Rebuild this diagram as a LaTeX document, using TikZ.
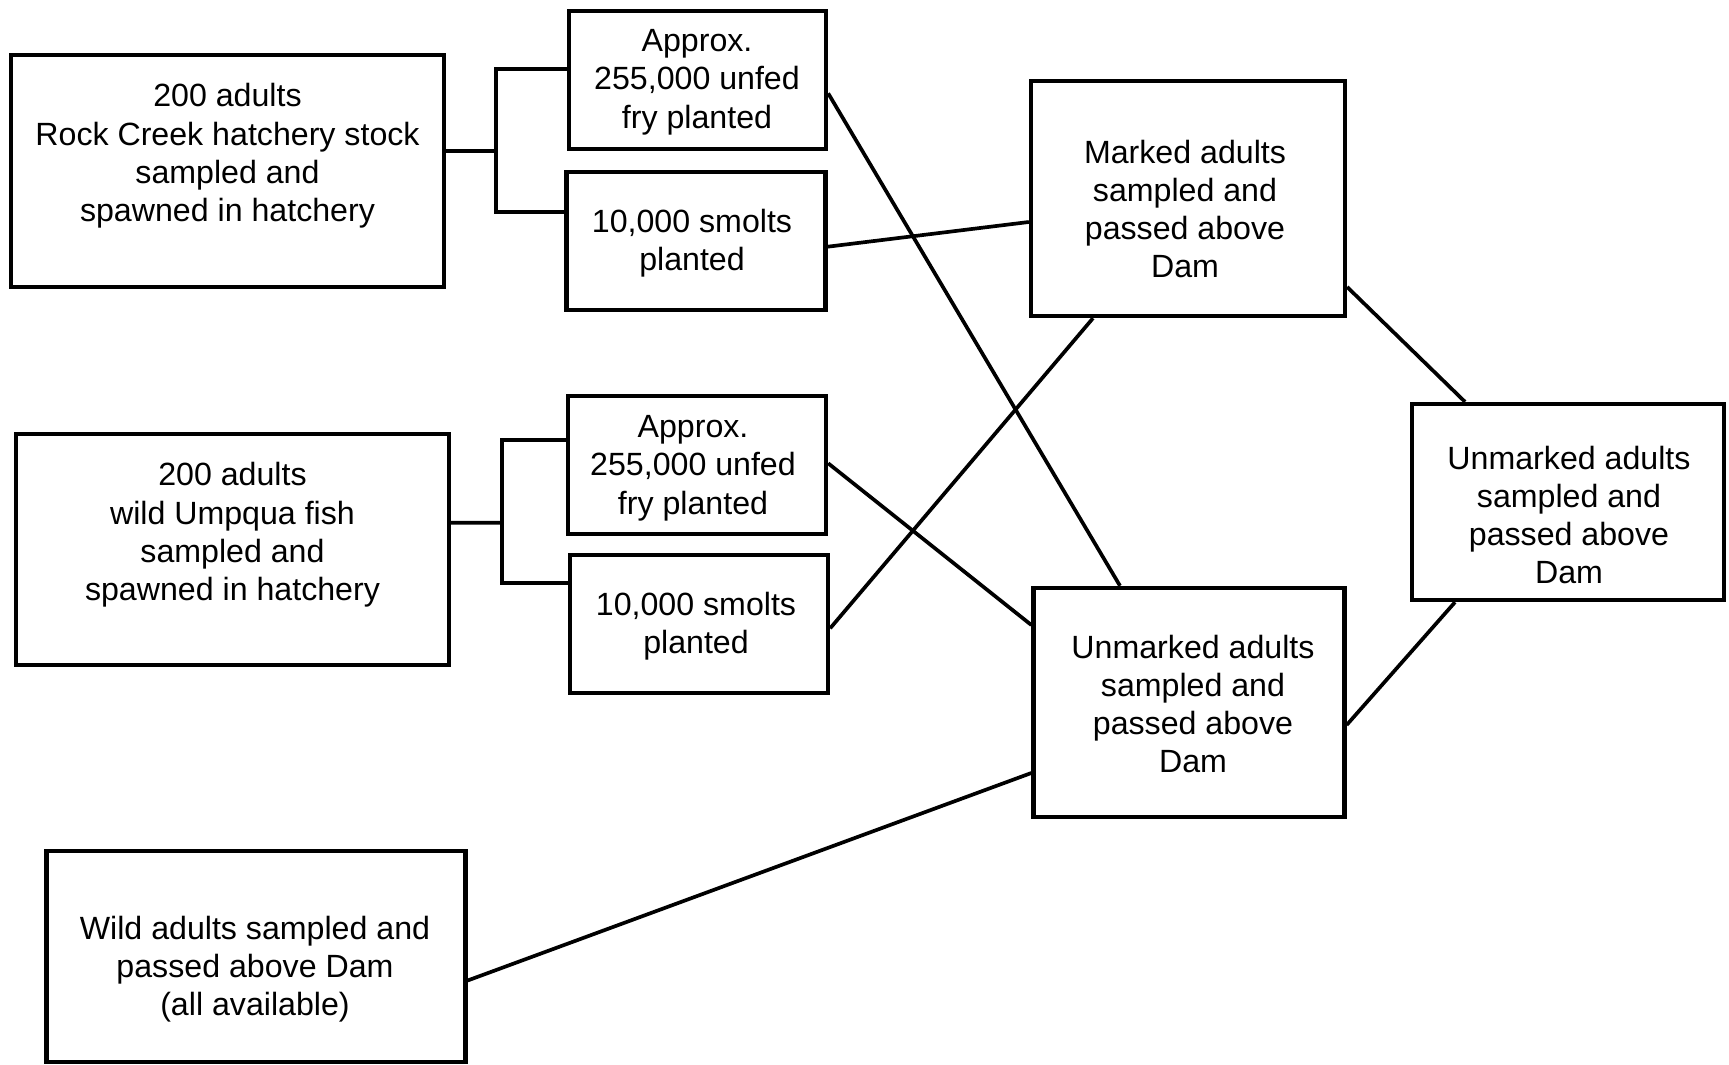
\documentclass[tikz,border=0pt]{standalone}
\usepackage{fontspec}
\setmainfont{Liberation Sans}
\usetikzlibrary{calc}
\tikzset{box/.style={draw, line width=2.5pt, inner sep=0pt},
         txt/.style={align=center, inner sep=0pt, font=\fontsize{18.3}{21.8}\selectfont}}

\begin{document}
\begin{tikzpicture}[x=0.02cm, y=-0.02cm, line width=2.1pt, line join=miter]
\useasboundingbox (0,0) rectangle (1729,1065);
% Hatchery sources
    \node[box, minimum width=8.66cm, minimum height=4.64cm] (rock) at (227.5,171) {};
    \node[txt] (rockt) at (227.5,156) {200 adults\\Rock Creek hatchery stock\\sampled and\\spawned in hatchery};
    \node[box, minimum width=8.66cm, minimum height=4.62cm] (wild) at (232.5,549.5) {};
    \node[txt] (wildt) at (232.5,535) {200 adults\\wild Umpqua fish\\sampled and\\spawned in hatchery};
    \node[box, minimum width=8.38cm, minimum height=4.22cm] (wildadults) at (256,956.5) {};
    \node[txt] (wildadultst) at (255,969) {Wild adults sampled and\\passed above Dam\\(all available)};
% Plantings
    \node[box, minimum width=5.14cm, minimum height=2.76cm] (fry1) at (697.5,80) {};
    \node[txt] (fry1t) at (697,82) {Approx.\\255,000 unfed\\fry planted};
    \node[box, minimum width=5.18cm, minimum height=2.76cm] (smolt1) at (696,241) {};
    \node[txt] (smolt1t) at (692,243) {10,000 smolts\\planted};
    \node[box, minimum width=5.16cm, minimum height=2.76cm] (fry2) at (697,465) {};
    \node[txt] (fry2t) at (693,468) {Approx.\\255,000 unfed\\fry planted};
    \node[box, minimum width=5.16cm, minimum height=2.76cm] (smolt2) at (699,624) {};
    \node[txt] (smolt2t) at (696,626) {10,000 smolts\\planted};
% Returning adults
    \node[box, minimum width=6.28cm, minimum height=4.70cm] (marked) at (1188,198.5) {};
    \node[txt] (markedt) at (1185,209) {Marked adults\\sampled and\\passed above\\Dam};
    \node[box, minimum width=6.22cm, minimum height=4.58cm] (unmarked) at (1189,702.5) {};
    \node[txt] (unmarkedt) at (1193,704) {Unmarked adults\\sampled and\\passed above\\Dam};
    \node[box, minimum width=6.24cm, minimum height=3.92cm] (unmarkedR) at (1568,502) {};
    \node[txt] (unmarkedRt) at (1569,515) {Unmarked adults\\sampled and\\passed above\\Dam};
% Forks
    \coordinate (fork1) at (496,151);
    \coordinate (fork2) at (502,522.7);
    \draw ($(rock.east)+(0,-20)$) -- (fork1);
    \draw ($(fry1.west)+(0,-10.7)$) -| (fork1) |- ($(smolt1.west)+(0,-28.7)$);
    \draw ($(wild.east)+(0,-26.8)$) -- (fork2);
    \draw ($(fry2.west)+(0,-25)$) -| (fork2) |- ($(smolt2.west)+(0,-40.7)$);
% Connectors
    \draw ($(fry1.east)+(0,13.3)$) -- ($(unmarked.north)+(-69,0)$);
    \draw ($(smolt1.east)+(0,5.7)$) -- ($(marked.west)+(0,23.5)$);
    \draw ($(fry2.east)+(0,-1.7)$) -- ($(unmarked.west)+(0,-77.5)$);
    \draw ($(smolt2.east)+(0,4.3)$) -- ($(marked.south)+(-95,0)$);
    \draw ($(marked.east)+(0,88.5)$) -- ($(unmarkedR.north)+(-103,0)$);
    \draw ($(unmarked.east)+(0,22.5)$) -- ($(unmarkedR.south)+(-113,0)$);
    \draw ($(wildadults.east)+(0,24)$) -- ($(unmarked.west)+(0,70.5)$);
\end{tikzpicture}
\end{document}
